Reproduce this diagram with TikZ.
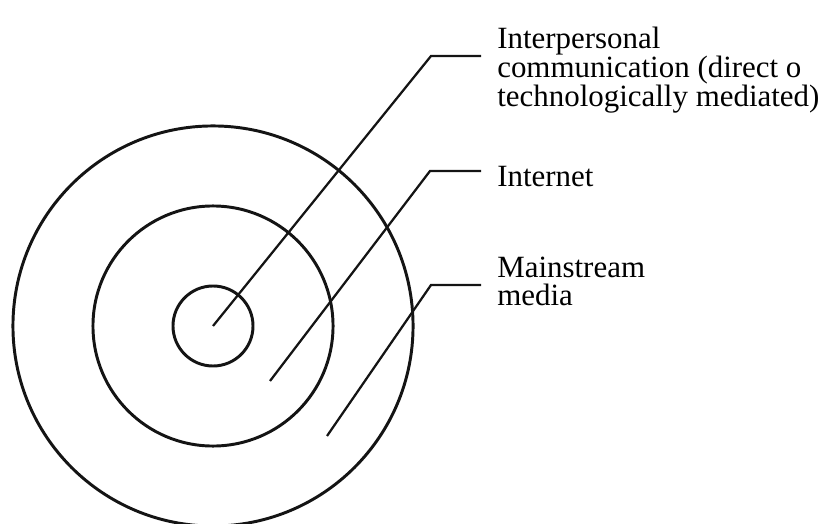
\documentclass[tikz,border=0pt]{standalone}
\usepackage{fontspec}
\setmainfont{Liberation Serif}
\usepackage{xcolor}
\definecolor{RingInk}{HTML}{141414}
\tikzset{
  ring/.style={RingInk,line width=2.1pt},
  leader/.style={RingInk,line width=1.6pt},
  tag/.style={anchor=base west,align=left,inner sep=0pt,font=\fontsize{22}{19.4}\selectfont}
}
\begin{document}
\begin{tikzpicture}[x=0.025cm,y=-0.025cm]
\path[use as bounding box] (0,0) rectangle (827,524);
% rings
\coordinate (core) at (213,326);
\draw[ring] (core) circle (5cm);
\draw[ring] (core) circle (3cm);
\draw[ring] (core) circle (1cm);
% labels (base = last line)
\node[tag] (ipTag) at (497,107) {Interpersonal\\communication (direct o\\technologically mediated)};
\node[tag] (netTag) at (497,187) {Internet};
\node[tag] (msTag) at (497,305) {Mainstream\\media};
% leaders
\coordinate (netFoot) at (270,381);
\coordinate (msFoot) at (327,436);
\coordinate (ipBend) at (431,56);
\coordinate (netBend) at (430,171);
\coordinate (msBend) at (431,285);
\coordinate (ipEnd) at (481,56);
\coordinate (netEnd) at (481,171);
\coordinate (msEnd) at (481,285);
\draw[leader] (core) -- (ipBend) -- (ipEnd);
\draw[leader] (netFoot) -- (netBend) -- (netEnd);
\draw[leader] (msFoot) -- (msBend) -- (msEnd);
\end{tikzpicture}
\end{document}
